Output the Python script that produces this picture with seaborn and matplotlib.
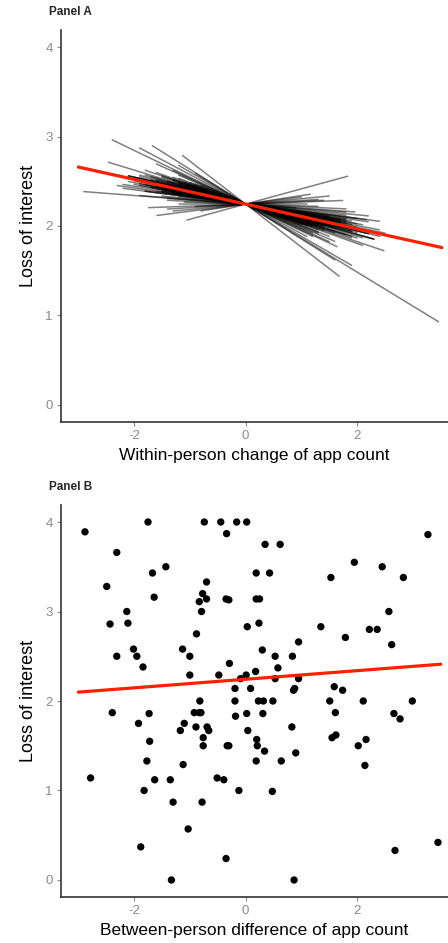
import numpy as np
import pandas as pd
import matplotlib
matplotlib.use("Agg")
import matplotlib.pyplot as plt
import seaborn as sns

# %% data

# Panel A: per-person random slopes over each person's centred x range
line_slope = [-0.30, -0.39, -0.48, -0.19, -0.048, 0.023, 0.08, 0.17, -0.38, 0.095,
              -0.045, -0.08, -0.15, -0.21, -0.36, -0.29, 0.04, 0.00, 0.06,
              -0.12, -0.15, -0.10, -0.18, -0.14, -0.20, -0.08, -0.16, -0.13, -0.22,
              -0.11, -0.17, -0.09, -0.19, -0.14, -0.24, -0.12, -0.06, -0.15, -0.21,
              -0.13, -0.10, -0.18, -0.16, -0.07, -0.25, -0.14, -0.11, -0.20, -0.17,
              -0.12, -0.23, -0.09, -0.15, -0.13, -0.19, -0.05, -0.16, -0.27, -0.12,
              -0.14, -0.10, -0.18, -0.22, -0.13, -0.08, -0.16, -0.11, -0.26, -0.15,
              -0.12, -0.19, -0.14, -0.17, -0.09, -0.21, -0.13, -0.03, -0.15, -0.11,
              -0.14, -0.17, -0.12, -0.20, -0.10, -0.16, -0.13, -0.18, -0.11, -0.15,
              -0.22, -0.09, -0.14, -0.19, -0.12, -0.16, -0.24, -0.13, -0.17, -0.10,
              -0.15, -0.21, -0.12, -0.18, -0.14, -0.28, -0.33, -0.02, 0.03, -0.16]
line_xmin = [-2.39, -1.67, -1.13, -2.46, -2.90, -1.74, -1.59, -1.05, -0.90, -0.80,
             -1.40, -1.80, -2.00, -1.50, -1.20, -1.30, -1.40, -1.20, -1.30,
             -1.9, -2.1, -1.5, -1.7, -2.2, -1.3, -1.8, -1.6, -2.0, -1.1,
             -1.4, -1.9, -2.3, -1.2, -1.7, -1.0, -2.1, -1.5, -1.8, -1.3,
             -1.6, -2.2, -1.4, -1.9, -1.2, -0.9, -1.7, -2.0, -1.5, -1.1,
             -1.8, -1.3, -1.6, -2.1, -1.4, -1.0, -1.9, -1.7, -1.2, -1.5,
             -2.0, -1.3, -1.8, -1.6, -1.1, -2.2, -1.4, -1.9, -0.8, -1.7,
             -1.5, -1.2, -2.0, -1.6, -1.3, -1.8, -1.0, -1.4, -2.1, -1.7,
             -1.3, -1.0, -1.6, -1.2, -1.5, -0.9, -1.4, -1.1, -1.7, -1.2,
             -1.0, -1.5, -1.3, -0.8, -1.6, -1.1, -1.2, -1.4, -0.9, -1.3,
             -1.5, -1.0, -1.2, -1.4, -1.1, -1.6, -1.9, -1.1, -0.9, -1.3]
line_xmax = [1.20, 1.60, 1.68, 1.00, 0.90, 1.74, 1.00, 1.83, 3.46, 1.16,
             1.96, 2.17, 2.41, 2.48, 1.90, 1.64, 1.30, 1.10, 1.50,
             1.5, 2.2, 1.8, 1.3, 2.0, 1.6, 2.4, 1.9, 1.4, 2.1,
             1.7, 2.3, 1.2, 1.8, 2.0, 1.5, 1.9, 2.2, 1.6, 1.1,
             2.5, 1.7, 1.4, 2.0, 1.8, 1.3, 2.1, 1.6, 1.9, 2.3,
             1.5, 1.0, 2.2, 1.7, 1.4, 2.0, 1.8, 1.6, 1.2, 2.4,
             1.9, 1.5, 2.1, 1.3, 1.7, 2.0, 0.9, 1.8, 1.6, 2.2,
             1.4, 1.9, 1.7, 2.3, 1.5, 1.1, 2.0, 1.8, 1.6, 2.1,
             1.6, 1.4, 1.8, 1.2, 1.9, 1.5, 1.7, 1.3, 2.0, 1.6,
             1.1, 1.8, 1.5, 1.4, 1.7, 1.9, 1.3, 1.6, 1.2, 1.8,
             1.5, 1.4, 1.7, 1.2, 1.9, 1.5, 1.1, 1.3, 1.4, 1.6]
within_intercept = 2.245
within_slope = -0.138
within_range = [-3.0, 3.52]

# Panel B: person means
between_x = [-2.88, -1.75, -0.74, -0.445, -0.16, 0.02, -0.34, 3.27, -2.31, 0.35,
             0.62, 1.95, 2.45, -1.43, -1.67, 0.19, 0.43, 1.53, 2.83, -2.49,
             -0.70, -1.64, -0.77, -0.83, -0.70, -0.35, -0.30, 0.19, 0.25, -2.13,
             -0.79, 2.57, -2.43, -2.11, 0.03, 0.24, 1.35, 2.22, 2.36, 1.79,
             -0.88, 0.95, 2.62, -2.01, -1.13, 0.30,
             -2.31, -1.95, -1.84, -1.00, -1.00, -0.29, -0.48, -0.09, 0.01, 0.18,
             0.53, 0.58, 0.53, 0.84, 0.95, 0.88, 0.86, 1.59, 1.74, -0.19, 0.09,
             -0.82, -0.19, 0.23, 0.32, 0.49, 1.51, 2.11, 2.99,
             -2.39, -1.73, -1.92, -0.92, -0.83, -0.80, -0.18, 0.02, 0.31, 1.61, 2.66, 2.77,
             -1.10, -1.17, -0.89, -0.69, -0.66, 0.04, 0.83,
             -1.72, -0.76, -0.76, -0.33, -0.30, 0.20, 0.21, 0.34, 0.90, 1.55, 1.62, 2.16, 2.02,
             -1.77, -1.12, 0.19, 0.64, 2.14,
             -2.78, -1.63, -1.35, -0.51, -0.39,
             -1.82, -0.12, 0.48,
             -1.30, -0.78, -1.03, -1.88, -0.35, 3.45, 2.68, -1.33, 0.87]
between_y = [3.89, 4.0, 4.0, 4.0, 4.0, 4.0, 3.87, 3.86, 3.66, 3.75,
             3.75, 3.55, 3.50, 3.50, 3.43, 3.43, 3.43, 3.38, 3.38, 3.28,
             3.33, 3.16, 3.20, 3.11, 3.14, 3.14, 3.13, 3.14, 3.14, 3.0,
             3.0, 3.0, 2.86, 2.87, 2.83, 2.87, 2.83, 2.80, 2.80, 2.71,
             2.75, 2.66, 2.63, 2.58, 2.58, 2.57,
             2.50, 2.50, 2.38, 2.50, 2.29, 2.42, 2.29, 2.25, 2.29, 2.33,
             2.50, 2.37, 2.25, 2.50, 2.25, 2.14, 2.12, 2.16, 2.12, 2.14, 2.14,
             2.0, 2.0, 2.0, 2.0, 2.0, 2.0, 2.0, 2.0,
             1.87, 1.86, 1.75, 1.87, 1.87, 1.87, 1.83, 1.86, 1.86, 1.87, 1.86, 1.80,
             1.75, 1.67, 1.71, 1.71, 1.67, 1.67, 1.71,
             1.55, 1.59, 1.50, 1.50, 1.50, 1.57, 1.50, 1.44, 1.42, 1.59, 1.62, 1.57, 1.50,
             1.33, 1.29, 1.33, 1.33, 1.28,
             1.14, 1.12, 1.12, 1.14, 1.12,
             1.0, 1.0, 0.99,
             0.87, 0.87, 0.57, 0.37, 0.24, 0.42, 0.33, 0.0, 0.0]
between_intercept = 2.243
between_slope = 0.048
between_range = [-3.0, 3.5]

# %% long tables for seaborn

rows = []
for i, (b, lo, hi) in enumerate(zip(line_slope, line_xmin, line_xmax)):
    for xv in (lo, hi):
        rows.append({"id": i, "x": xv, "y": within_intercept + b * xv})
df_lines = pd.DataFrame(rows)
df_within_fit = pd.DataFrame({"x": within_range,
                              "y": [within_intercept + within_slope * v for v in within_range]})

df_pts = pd.DataFrame({"x": between_x, "y": between_y})
df_between_fit = pd.DataFrame({"x": between_range,
                               "y": [between_intercept + between_slope * v for v in between_range]})

# %% plot

sns.set_style("ticks")
plt.rcParams["font.family"] = ["Liberation Sans", "DejaVu Sans"]
plt.rcParams["axes.unicode_minus"] = False

fig = plt.figure(figsize=(4.48, 9.43), dpi=100)
axA = fig.add_axes([61 / 448, 1 - 422 / 943, 1 - 61 / 448, 392 / 943])
axB = fig.add_axes([61 / 448, 1 - 897 / 943, 1 - 61 / 448, 392 / 943])

sns.lineplot(data=df_lines, x="x", y="y", units="id", estimator=None,
             color="black", alpha=0.5, lw=1.1, ax=axA, legend=False)
sns.lineplot(data=df_within_fit, x="x", y="y", color="#ff2000", lw=2.3, ax=axA)

sns.scatterplot(data=df_pts, x="x", y="y", color="black", s=28,
                edgecolor="none", ax=axB)
sns.lineplot(data=df_between_fit, x="x", y="y", color="#ff2000", lw=2.3, ax=axB)

for ax, xlab, title in [(axA, "Within-person change of app count", "Panel A"),
                        (axB, "Between-person difference of app count", "Panel B")]:
    ax.set_xlim(-3.31, 3.63)
    ax.set_ylim(-0.19, 4.19)
    ax.set_xticks([-2, 0, 2])
    ax.set_yticks([0, 1, 2, 3, 4])
    ax.set_xlabel(xlab, fontsize=12.5, color="black", labelpad=4)
    ax.set_ylabel("Loss of interest", fontsize=13, color="black", labelpad=6)
    ax.tick_params(colors="#8a8a8a", labelsize=9.5, length=3, width=0.8, pad=3)
    sns.despine(ax=ax)
    for s in ("left", "bottom"):
        ax.spines[s].set_color("#333333")
        ax.spines[s].set_linewidth(1.2)
    ax.text(-0.03, 1.045, title, transform=ax.transAxes, fontsize=8.5,
            fontweight="bold", ha="left", va="center")

fig.savefig("out.png", dpi=100)
